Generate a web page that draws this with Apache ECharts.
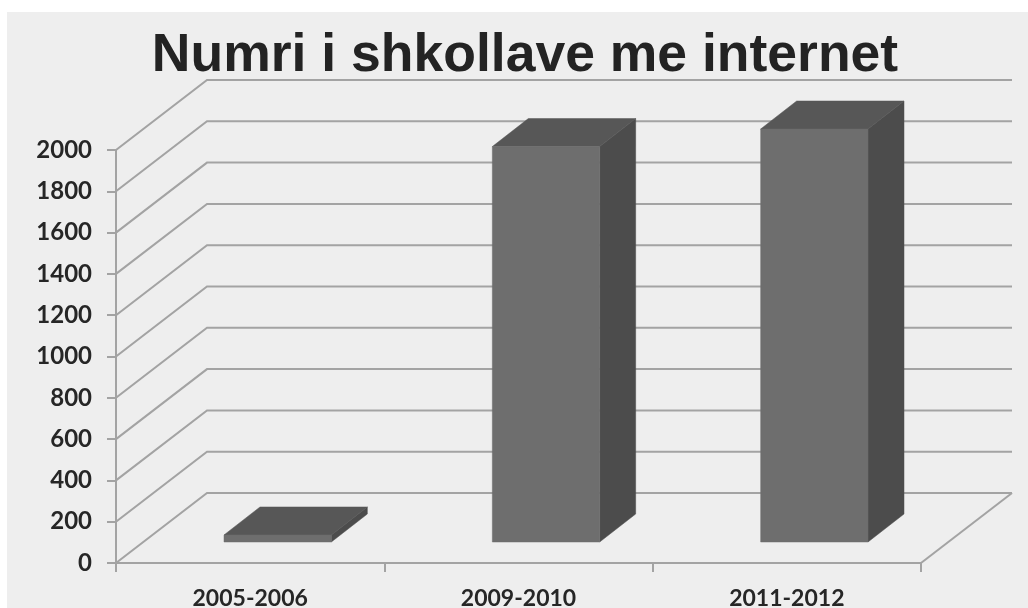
<!DOCTYPE html>
<html><head><meta charset="utf-8">
<style>html,body{margin:0;padding:0;background:#fff}#c{width:1028px;height:608px}</style>
<script src="https://cdn.jsdelivr.net/npm/echarts@6/dist/echarts.min.js"></script>
</head><body><div id="c"></div>
<script>
const titleText = 'Numri i shkollave me internet';
const categories = ['2005-2006', '2009-2010', '2011-2012'];
const schools = [34, 1915, 2000];
const gridTicks = [0, 200, 400, 600, 800, 1000, 1200, 1400, 1600, 1800, 2000];

const wallDepth = [91, -70], gapDepth = [27.5, -21], barDepth = [36, -28];
const LINE = '#a3a3a3', FRONT = '#6e6e6e', TOP = '#575757', SIDE = '#4c4c4c';
const labelFont = { fontFamily: 'Lato', fontWeight: 'bold', color: '#262626' };

const shift = (p, d) => [p[0] + d[0], p[1] + d[1]];

function renderWall(params, api) {
  const v = api.value(0);
  const band = api.size([1, 0])[0];
  const a = api.coord([0, v]), b = api.coord([categories.length - 1, v]);
  const fl = [a[0] - band / 2, a[1]], fr = [b[0] + band / 2, b[1]];
  const bl = shift(fl, wallDepth), br = shift(fr, wallDepth);
  const style = { stroke: LINE, lineWidth: 2, fill: null };
  const children = [{ type: 'polyline', shape: { points: [fl, bl, br] }, style }];
  if (v === 0) children.push({ type: 'line', shape: { x1: br[0], y1: br[1], x2: fr[0], y2: fr[1] }, style });
  return { type: 'group', children };
}

function renderBar(params, api) {
  const i = api.value(0), v = api.value(1);
  const w = api.size([1, 0])[0] / 2.5;
  const c0 = shift(api.coord([i, 0]), gapDepth), c1 = shift(api.coord([i, v]), gapDepth);
  const bl = [c0[0] - w / 2, c0[1]], br = [c0[0] + w / 2, c0[1]];
  const tl = [c1[0] - w / 2, c1[1]], tr = [c1[0] + w / 2, c1[1]];
  const poly = (pts, fill) => ({ type: 'polygon', shape: { points: pts }, style: { fill, stroke: fill, lineWidth: 0.5 } });
  return { type: 'group', children: [
    poly([br, tr, shift(tr, barDepth), shift(br, barDepth)], SIDE),
    poly([tl, tr, shift(tr, barDepth), shift(tl, barDepth)], TOP),
    poly([bl, br, tr, tl], FRONT)
  ] };
}

const chart = echarts.init(document.getElementById('c'), null, { renderer: 'canvas' });
chart.setOption({
  animation: false,
  backgroundColor: '#ffffff',
  graphic: [{ type: 'rect', z: -10, silent: true, shape: { x: 7, y: 12, width: 1021, height: 596 }, style: { fill: '#eeeeee' } }],
  title: { text: titleText, left: 520, top: 24, textAlign: 'center',
    textStyle: { fontFamily: 'Liberation Sans', fontWeight: 'bold', fontSize: 53.5, color: '#232323' } },
  grid: { left: 116, right: 107, top: 150, bottom: 45, outerBoundsMode: 'none' },
  xAxis: { type: 'category', data: categories,
    axisLine: { lineStyle: { color: LINE, width: 2 } },
    axisTick: { show: true, length: 9, lineStyle: { color: LINE, width: 2 } },
    axisLabel: Object.assign({ margin: 24, interval: 0, fontSize: 23 }, labelFont) },
  yAxis: { type: 'value', min: 0, max: 2000, interval: 200,
    axisLine: { show: true, lineStyle: { color: LINE, width: 2 } },
    axisTick: { show: true, length: 9, lineStyle: { color: LINE, width: 2 } },
    splitLine: { show: false },
    axisLabel: Object.assign({ margin: 24, fontSize: 24, formatter: v => String(v) }, labelFont) },
  series: [
    { type: 'custom', name: 'grid', coordinateSystem: 'cartesian2d', clip: false, silent: true, z: 1,
      renderItem: renderWall, encode: { y: 0 }, data: gridTicks.map(v => [v]) },
    { type: 'custom', name: 'Numri i shkollave', coordinateSystem: 'cartesian2d', clip: false, z: 3,
      renderItem: renderBar, encode: { x: 0, y: 1 }, data: schools.map((v, i) => [i, v]) }
  ]
});
</script></body></html>
